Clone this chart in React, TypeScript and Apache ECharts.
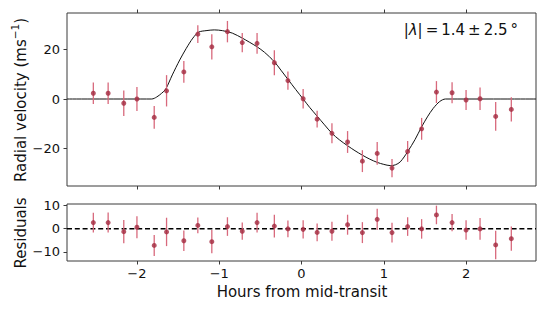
import React, { useEffect, useRef } from "react";
import * as echarts from "echarts";

// Observations (hours from mid-transit)
const times = [-2.53, -2.35, -2.16, -2.0, -1.79, -1.64, -1.43, -1.26, -1.09, -0.9, -0.72, -0.54, -0.33, -0.165, 0.02, 0.19, 0.37, 0.56, 0.74, 0.92, 1.1, 1.29, 1.46, 1.64, 1.83, 2.0, 2.17, 2.36, 2.55];
const rv = [2.3, 2.3, -1.7, 0.0, -7.4, 3.3, 10.9, 26.1, 21.0, 27.1, 22.7, 22.4, 14.6, 7.4, 0.1, -8.1, -13.8, -17.3, -25.0, -21.9, -27.8, -21.1, -12.0, 2.8, 2.5, -0.4, 0.1, -7.0, -4.2];
const rvErr = [4.3, 4.3, 5.1, 4.8, 4.6, 6.3, 4.4, 3.6, 5.1, 4.3, 3.9, 4.2, 5.0, 3.7, 3.9, 3.4, 4.0, 4.4, 4.4, 4.6, 3.7, 4.2, 4.4, 4.4, 4.2, 4.0, 4.5, 5.8, 4.9];
const resid = [2.6, 2.6, -1.3, 0.6, -7.2, -1.4, -5.2, 1.4, -5.6, 0.9, -1.1, 2.6, 1.1, -0.1, -0.3, -1.6, -1.1, 1.7, -1.7, 4.0, -1.7, 0.9, -0.1, 5.9, 2.6, -0.6, -0.1, -7.0, -4.3];
const residErr = [4.2, 4.3, 5.0, 4.7, 4.5, 6.1, 4.4, 3.4, 5.0, 4.0, 3.7, 4.2, 4.9, 3.6, 3.9, 3.8, 4.1, 4.3, 4.5, 4.6, 4.2, 4.0, 4.2, 4.0, 3.7, 4.2, 4.7, 6.1, 5.2];

// Model curve
const modelT = [-2.85, -1.82, -1.76, -1.7, -1.65, -1.57, -1.48, -1.4, -1.32, -1.25, -1.16, -1.06, -0.96, -0.84, -0.72, -0.635, -0.54, -0.45, -0.33, -0.25, -0.16, -0.07, 0.02, 0.1, 0.19, 0.28, 0.37, 0.46, 0.56, 0.65, 0.74, 0.83, 0.92, 1.0, 1.08, 1.14, 1.2, 1.29, 1.38, 1.46, 1.53, 1.6, 1.68, 1.75, 2.85];
const modelRV = [0, 0, 0.8, 2.3, 4.0, 9.7, 15.7, 20.4, 24.5, 26.9, 27.5, 27.8, 27.5, 26.5, 24.5, 22.9, 21.0, 18.8, 15.0, 11.6, 7.7, 3.8, 0, -3.4, -6.9, -10.4, -13.8, -16.4, -18.8, -20.8, -22.6, -24.2, -25.5, -26.3, -26.8, -26.5, -25.3, -21.2, -16.3, -11.2, -7.2, -3.8, -1.0, 0, 0];

const xTicks = [-2, -1, 0, 1, 2];
const rvTicks = [-20, 0, 20];
const residTicks = [-10, 0, 10];

const FONT = "DejaVu Sans";
const MARK = "#a3293f";
const ERR = "#d8697c";
const FRAME = "#3a3a3a";

const fmt = (v: number) => (v < 0 ? "\u2212" + Math.abs(v) : String(v));

function errBars(data: number[][], xi: number, yi: number) {
  return {
    type: "custom",
    xAxisIndex: xi,
    yAxisIndex: yi,
    z: 3,
    encode: { x: 0, y: 1 },
    data,
    renderItem: (_p: any, api: any) => {
      const x = api.value(0);
      const y = api.value(1);
      const e = api.value(2);
      const a = api.coord([x, y - e]);
      const b = api.coord([x, y + e]);
      return {
        type: "line",
        shape: { x1: a[0], y1: a[1], x2: b[0], y2: b[1] },
        style: { stroke: ERR, lineWidth: 1.3 },
      };
    },
  };
}

export default function App() {
  const ref = useRef<HTMLDivElement>(null);
  useEffect(() => {
    if (!ref.current) return;
    const chart = echarts.init(ref.current, null, { renderer: "svg" });
    const tick = (vals: number[], show = true) => ({
      show,
      customValues: vals,
      length: 3.5,
      lineStyle: { color: FRAME, width: 1 },
    });
    const noLine = { show: false, onZero: false };
    const xBase = {
      type: "value",
      min: -2.85,
      max: 2.85,
      axisLine: noLine,
      splitLine: { show: false },
    };
    const lbl = (vals: number[], margin: number) => ({
      customValues: vals,
      formatter: fmt,
      fontSize: 13,
      color: "#111",
      margin,
      fontFamily: FONT,
    });
    chart.setOption({
      animation: false,
      textStyle: { fontFamily: FONT },
      grid: [
        { left: 67, top: 13, width: 469, height: 173, show: true, borderColor: FRAME, borderWidth: 1, backgroundColor: "transparent" },
        { left: 67, top: 204, width: 469, height: 57, show: true, borderColor: FRAME, borderWidth: 1, backgroundColor: "transparent" },
      ],
      xAxis: [
        { ...xBase, gridIndex: 0, position: "bottom", axisTick: tick(xTicks), axisLabel: { show: false } },
        { ...xBase, gridIndex: 0, position: "top", axisTick: tick(xTicks), axisLabel: { show: false } },
        { ...xBase, gridIndex: 1, position: "bottom", axisTick: tick(xTicks), axisLabel: lbl(xTicks, 6) },
      ],
      yAxis: [
        {
          type: "value",
          gridIndex: 0,
          position: "left",
          min: -35,
          max: 34.6,
          axisLine: noLine,
          splitLine: { show: false },
          axisTick: tick(rvTicks),
          axisLabel: lbl(rvTicks, 7),
        },
        {
          type: "value",
          gridIndex: 1,
          position: "left",
          min: -13.9,
          max: 10.6,
          axisLine: noLine,
          splitLine: { show: false },
          axisTick: tick(residTicks),
          axisLabel: lbl(residTicks, 7),
        },
      ],
      graphic: [
        {
          type: "text",
          x: 21,
          y: 100,
          rotation: Math.PI / 2,
          style: {
            text: "Radial velocity (ms{sup|\u22121})",
            fontSize: 15,
            lineHeight: 24,
            fontFamily: FONT,
            fill: "#111",
            align: "center",
            verticalAlign: "middle",
            rich: {
              sup: { fontSize: 10.5, fontFamily: FONT, fill: "#111", verticalAlign: "top", lineHeight: 12 },
            },
          },
        },
        {
          type: "text",
          x: 21,
          y: 233,
          rotation: Math.PI / 2,
          style: { text: "Residuals", fontSize: 15, fontFamily: FONT, fill: "#111", align: "center", verticalAlign: "middle" },
        },
        {
          type: "text",
          x: 302,
          y: 292,
          style: { text: "Hours from mid-transit", fontSize: 15, fontFamily: FONT, fill: "#111", align: "center", verticalAlign: "middle" },
        },
        {
          type: "text",
          x: 518,
          y: 30,
          style: {
            text: "|{i|\u03bb}|\u2009=\u20091.4\u2009\u00b1\u20092.5\u2009\u00b0",
            fontSize: 15,
            fontFamily: FONT,
            fill: "#111",
            align: "right",
            verticalAlign: "middle",
            rich: { i: { fontSize: 15, fontStyle: "italic", fontFamily: FONT, fill: "#111" } },
          },
        },
      ],
      series: [
        {
          type: "line",
          xAxisIndex: 0,
          yAxisIndex: 0,
          data: modelT.map((t, i) => [t, modelRV[i]]),
          showSymbol: false,
          smooth: 0.3,
          lineStyle: { color: "#111", width: 1 },
          z: 2,
          silent: true,
        },
        errBars(times.map((t, i) => [t, rv[i], rvErr[i]]), 0, 0),
        {
          type: "scatter",
          xAxisIndex: 0,
          yAxisIndex: 0,
          data: times.map((t, i) => [t, rv[i]]),
          symbolSize: 5,
          itemStyle: { color: MARK },
          z: 4,
        },
        {
          type: "line",
          xAxisIndex: 2,
          yAxisIndex: 1,
          data: [[-2.85, 0], [2.85, 0]],
          showSymbol: false,
          lineStyle: { color: "#000", width: 1.5, type: [5, 2.8] },
          z: 2,
          silent: true,
        },
        errBars(times.map((t, i) => [t, resid[i], residErr[i]]), 2, 1),
        {
          type: "scatter",
          xAxisIndex: 2,
          yAxisIndex: 1,
          data: times.map((t, i) => [t, resid[i]]),
          symbolSize: 5,
          itemStyle: { color: MARK },
          z: 4,
        },
      ],
    });
    return () => chart.dispose();
  }, []);
  return <div ref={ref} style={{ position: "absolute", left: 0, top: 0, width: 537, height: 310 }} />;
}
